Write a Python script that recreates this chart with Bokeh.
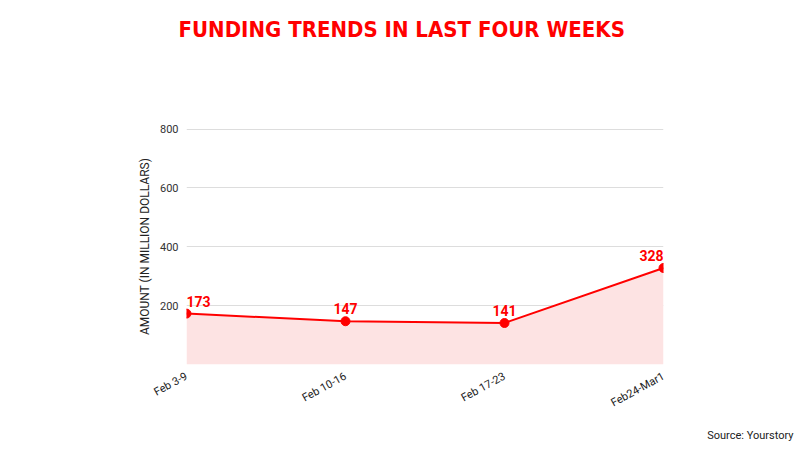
from bokeh.plotting import figure
from bokeh.models import Range1d, FixedTicker, Title, ColumnDataSource
from bokeh.embed import file_html
from bokeh.resources import INLINE
from bokeh.core.properties import value

weeks = ["Feb 3-9", "Feb 10-16", "Feb 17-23", "Feb24-Mar1"]
amounts = [173, 147, 141, 328]
y_ticks = [200, 400, 600, 800]

xs = list(range(len(weeks)))
aligns = ["left"] + ["center"] * (len(weeks) - 2) + ["right"]
src = ColumnDataSource(dict(x=xs, y=amounts, lab=[str(a) for a in amounts], al=aligns))

p = figure(width=800, height=450, output_backend="svg", toolbar_location=None,
           x_range=Range1d(0, len(weeks) - 1), y_range=Range1d(0, 802),
           min_border_left=186, min_border_right=137, min_border_top=128, min_border_bottom=86)
p.outline_line_color = None
p.background_fill_color = "white"
p.border_fill_color = "white"

p.varea(x="x", y1=0, y2="y", source=src, fill_color="#fde3e3")
p.line(x="x", y="y", source=src, line_color="#ff0000", line_width=2)
p.scatter(x="x", y="y", source=src, size=9, fill_color="#ff0000", line_color="#ff0000")
p.text(x="x", y="y", text="lab", source=src, text_align="al", text_baseline="bottom",
       y_offset=-7, text_color="#ff0000", text_font=value("Roboto"),
       text_font_style="bold", text_font_size="14px")

p.xgrid.grid_line_color = None
p.ygrid.grid_line_color = "#dddddd"
p.ygrid.ticker = FixedTicker(ticks=y_ticks)

p.yaxis.ticker = FixedTicker(ticks=y_ticks)
p.yaxis.axis_line_color = None
p.yaxis.major_tick_line_color = None
p.yaxis.minor_tick_line_color = None
p.yaxis.major_label_text_font = "Roboto"
p.yaxis.major_label_text_font_size = "11px"
p.yaxis.major_label_text_color = "#333333"
p.yaxis.major_label_standoff = 2
p.yaxis.axis_label = "AMOUNT (IN MILLION DOLLARS)"
p.yaxis.axis_label_text_font = "Roboto"
p.yaxis.axis_label_text_font_style = "normal"
p.yaxis.axis_label_text_font_size = "12px"
p.yaxis.axis_label_text_color = "#222222"
p.yaxis.axis_label_standoff = 5

p.xaxis.ticker = FixedTicker(ticks=xs)
p.xaxis.major_label_overrides = {i: w for i, w in enumerate(weeks)}
p.xaxis.major_label_orientation = 0.5
p.xaxis.axis_line_color = None
p.xaxis.major_tick_line_color = None
p.xaxis.minor_tick_line_color = None
p.xaxis.major_label_text_font = "Roboto"
p.xaxis.major_label_text_font_size = "11px"
p.xaxis.major_label_text_color = "#222222"

# spacer between frame and title (panels stack outward from the frame)
p.add_layout(Title(text=" ", standoff=82, text_font_size="1px"), "above")

p.title.text = "FUNDING TRENDS IN LAST FOUR WEEKS"
p.title.align = "left"
p.title.offset = -8
p.title.vertical_align = "top"
p.title.standoff = 0
p.title.text_color = "#ff0000"
p.title.text_font = "'Liberation Sans Narrow', 'DejaVu Sans Condensed', 'Roboto Condensed', 'Noto Sans', sans-serif"
p.title.text_font_style = "bold"
p.title.text_font_size = "22px"

p.add_layout(Title(text="Source: Yourstory", align="right", offset=-130, standoff=16,
                   text_color="#222222", text_font="Roboto", text_font_style="normal",
                   text_font_size="11px"), "below")

open("out.html", "w").write(file_html(p, INLINE))
